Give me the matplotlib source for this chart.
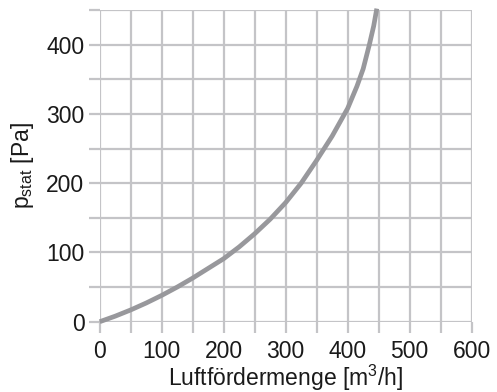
import matplotlib
matplotlib.use("Agg")
import matplotlib.pyplot as plt
from matplotlib.ticker import MultipleLocator

plt.rcParams['font.family'] = ['Liberation Sans', 'DejaVu Sans']
plt.rcParams['mathtext.fontset'] = 'custom'
plt.rcParams['mathtext.rm'] = 'Liberation Sans'
plt.rcParams['mathtext.default'] = 'regular'

# Data
airflow = [0, 25, 50, 75, 100, 125, 150, 175, 200, 225, 250, 275, 300, 325,
           350, 375, 400, 415, 425, 435, 442, 447]
pressure = [0, 8, 17, 27, 38, 50, 63, 77, 91, 108, 127, 148, 172, 200,
            233, 268, 308, 340, 365, 400, 427, 452]
x_ticks = [0, 100, 200, 300, 400, 500, 600]
y_ticks = [0, 100, 200, 300, 400]

grid_color = '#c4c4c7'
curve_color = '#98989c'
text_color = '#1a1a1a'

fig = plt.figure(figsize=(4.97, 3.92), dpi=100)
ax = fig.add_axes([0.2006, 0.1793, 0.949 - 0.2006, 0.9745 - 0.1793])

ax.set_xlim(0, 600)
ax.set_ylim(0, 450)
ax.set_xticks(x_ticks)
ax.set_yticks(y_ticks)
ax.xaxis.set_minor_locator(MultipleLocator(50))
ax.yaxis.set_minor_locator(MultipleLocator(50))

ax.grid(True, which='both', color=grid_color, linewidth=1.6, zorder=0)
ax.set_axisbelow(True)
for s in ax.spines.values():
    s.set_visible(False)

ax.tick_params(which='both', direction='out', length=8, width=1.6,
               color=grid_color, labelsize=16.5, labelcolor=text_color)
ax.tick_params(axis='x', pad=5)
ax.tick_params(axis='y', pad=3)

ax.plot(airflow, pressure, color=curve_color, linewidth=3.4,
        solid_capstyle='butt', solid_joinstyle='round', clip_on=False, zorder=3)

ax.set_xlabel(r'Luftfördermenge [m$^3$/h]', fontsize=16.5, color=text_color, labelpad=0)
ax.set_ylabel(r'p$_{stat}$ [Pa]', fontsize=16.5, color=text_color, labelpad=7.5)

fig.savefig('out.png', dpi=100)
